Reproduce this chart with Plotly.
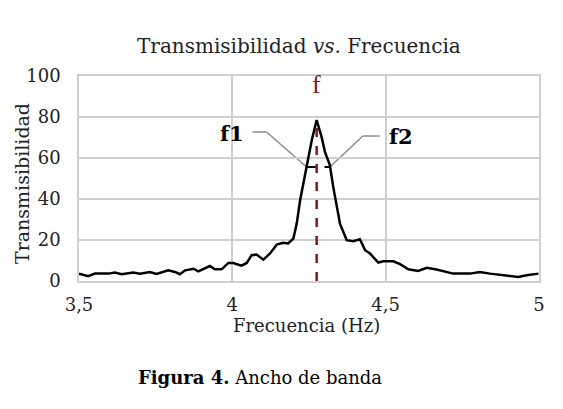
import plotly.graph_objects as go

# Frequency (Hz) and transmissibility
freq = [3.500, 3.530, 3.552, 3.596, 3.617, 3.639, 3.677, 3.699, 3.731, 3.753,
        3.791, 3.813, 3.829, 3.846, 3.873, 3.889, 3.927, 3.943, 3.965, 3.987,
        4.003, 4.030, 4.047, 4.063, 4.079, 4.101, 4.123, 4.145, 4.166, 4.182,
        4.199, 4.210, 4.221, 4.242, 4.259, 4.275, 4.291, 4.302, 4.318, 4.329,
        4.340, 4.351, 4.373, 4.394, 4.416, 4.433, 4.449, 4.476, 4.492, 4.525,
        4.547, 4.574, 4.606, 4.634, 4.666, 4.677, 4.720, 4.775, 4.807, 4.840,
        4.883, 4.932, 4.960, 4.998]
trans = [3.6, 2.3, 3.6, 3.6, 4.1, 3.3, 4.1, 3.6, 4.4, 3.4,
         5.2, 4.4, 3.3, 5.2, 6.0, 4.7, 7.3, 5.7, 5.7, 8.8,
         8.8, 7.5, 8.8, 12.6, 12.9, 10.4, 13.4, 17.8, 18.6, 18.3,
         20.7, 28.0, 39.4, 55.7, 68.7, 78.5, 70.3, 63.0, 56.5, 45.9,
         37.8, 28.0, 19.9, 19.4, 20.4, 15.0, 13.4, 9.0, 9.6, 9.6,
         8.2, 5.7, 4.9, 6.4, 5.6, 5.2, 3.6, 3.6, 4.4, 3.6,
         2.8, 2.0, 2.8, 3.6]

f_peak = 4.275
t_peak = 78.5
f1 = 4.242
f2 = 4.318
t_half = 55.6

x_ticks = [3.5, 4, 4.5, 5]
y_ticks = [0, 20, 40, 60, 80, 100]

SERIF = "DejaVu Serif"
TIMES = "Liberation Serif"
GRID = "#cfcfcf"
LEADER = "#8c8c8c"
RED = "#7a1a1a"

# page body has an 8px margin -> figure is drawn 8px lower/right
OFF = 8
W, H = 563 - OFF, 409 - OFF
L, R, T, B = 79 - OFF, 539 - OFF, 76 - OFF, 281 - OFF

fig = go.Figure()
fig.add_trace(go.Scatter(x=freq, y=trans, mode="lines",
                         line=dict(color="black", width=2.5), hoverinfo="skip"))
fig.add_trace(go.Scatter(x=[f_peak, f_peak], y=[0, t_peak], mode="lines",
                         line=dict(color=RED, width=2.5, dash="dash")))
fig.add_trace(go.Scatter(x=[f1, f2], y=[t_half, t_half], mode="lines",
                         line=dict(color="black", width=2, dash="dash")))

# leader lines (pixel offsets from anchor points)
def seg(xa, ya, x0, y0, x1, y1):
    fig.add_shape(type="line", xref="x", yref="y", xsizemode="pixel", ysizemode="pixel",
                  xanchor=xa, yanchor=ya, x0=x0, y0=y0, x1=x1, y1=y1,
                  line=dict(color=LEADER, width=1.5), layer="below")

seg(f1, t_half, 0, 0, -40, 35)
seg(f1, t_half, -40, 35, -54, 35)
seg(f2, t_half, 0, 0, 33, 31)
seg(f2, t_half, 33, 31, 50, 31)

fig.add_annotation(x=f1, y=t_half, xref="x", yref="y", text="<b>f1</b>", showarrow=False,
                   xshift=-75, yshift=34, font=dict(family=SERIF, size=21, color="black"))
fig.add_annotation(x=f2, y=t_half, xref="x", yref="y", text="<b>f2</b>", showarrow=False,
                   xshift=71, yshift=31, font=dict(family=SERIF, size=21, color="black"))
fig.add_annotation(x=f_peak, y=100, xref="x", yref="y", text="f", showarrow=False,
                   yshift=-8, font=dict(family=TIMES, size=26, color=RED))


def pannot(text, cx, cy, size, angle=0, color="black", family=SERIF):
    cx, cy = cx - OFF, cy - OFF
    fig.add_annotation(x=(cx - L) / (R - L), y=(B - cy) / (B - T), xref="paper", yref="paper",
                       xanchor="center", yanchor="middle", text=text, showarrow=False,
                       textangle=angle, font=dict(family=family, size=size, color=color))

pannot("Transmisibilidad <i>vs.</i> Frecuencia", 299, 46, 20, color="#222")
pannot("Transmisibilidad", 22, 184, 19, angle=-90, color="#222")
pannot("Frecuencia (Hz)", 306, 325, 18, color="#222")
pannot("<b>Figura 4.</b> Ancho de banda", 260, 377, 18)

fig.update_layout(
    width=W, height=H,
    margin=dict(l=L, r=W - R, t=T, b=H - B, pad=0),
    paper_bgcolor="white", plot_bgcolor="white",
    showlegend=False,
    separators=", ",
    xaxis=dict(range=[3.5, 5], tickvals=x_ticks, showgrid=True, gridcolor=GRID, gridwidth=1.5,
               zeroline=False, showline=True, linecolor=GRID, linewidth=1.5, mirror=True,
               ticks="", ticklabelstandoff=7,
               tickfont=dict(family=SERIF, size=18, color="#222")),
    yaxis=dict(range=[0, 100], tickvals=y_ticks, showgrid=True, gridcolor=GRID, gridwidth=1.5,
               zeroline=False, showline=True, linecolor=GRID, linewidth=1.5, mirror=True,
               ticks="", ticklabelstandoff=13,
               tickfont=dict(family=SERIF, size=18, color="#222")),
)

fig.write_html("out.html")
